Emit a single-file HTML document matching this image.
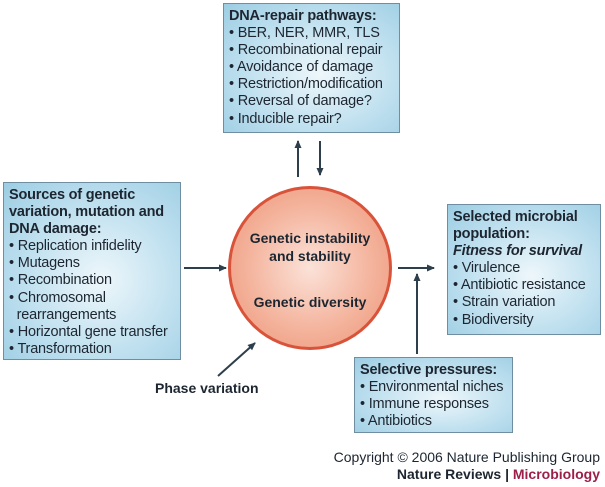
<!DOCTYPE html>
<html><head><meta charset="utf-8"><style>
body{margin:0;width:605px;height:487px;background:#fff;position:relative;overflow:hidden;font-family:"Liberation Sans",sans-serif;color:#1d2630}
.b{position:absolute;box-sizing:border-box;border:1.5px solid #6f8ea2;background:radial-gradient(ellipse at 55% 55%,#eef7fb 0%,#bfe0ef 55%,#9ccde3 100%);font-size:14.5px;line-height:17.1px;padding:4px 5px;letter-spacing:-0.2px;white-space:nowrap}
.b b{font-size:14.5px}
.c{position:absolute;left:228px;top:186px;width:164px;height:164px;border-radius:50%;box-sizing:border-box;border:3px solid #d8533a;background:radial-gradient(circle at 50% 50%,#fbe2d8 0%,#f4b49d 55%,#ec9276 100%);text-align:center;font-weight:bold;font-size:14px;line-height:18px}
.t{position:absolute;font-size:14px}
</style></head><body>
<div class="b" style="left:223px;top:3px;width:177px;height:130px"><b>DNA-repair pathways:</b><br>• BER, NER, MMR, TLS<br>• Recombinational repair<br>• Avoidance of damage<br>• Restriction/modification<br>• Reversal of damage?<br>• Inducible repair?</div>
<div class="b" style="left:3px;top:182px;width:178px;height:178px;white-space:normal"><b>Sources of genetic variation, mutation and DNA damage:</b><br>• Replication infidelity<br>• Mutagens<br>• Recombination<br>• Chromosomal<br>&nbsp;&nbsp;rearrangements<br>• Horizontal gene transfer<br>• Transformation</div>
<div class="b" style="left:447px;top:204px;width:154px;height:131px"><b>Selected microbial<br>population:</b><br><b><i>Fitness for survival</i></b><br>• Virulence<br>• Antibiotic resistance<br>• Strain variation<br>• Biodiversity</div>
<div class="b" style="left:354px;top:357px;width:159px;height:76px"><b>Selective pressures:</b><br>• Environmental niches<br>• Immune responses<br>• Antibiotics</div>
<div class="c"><div style="position:absolute;top:40px;width:100%">Genetic instability<br>and stability</div><div style="position:absolute;top:104px;width:100%">Genetic diversity</div></div>
<svg style="position:absolute;left:0;top:0" width="605" height="487">
<defs><marker id="a" markerWidth="8" markerHeight="8" refX="7" refY="4" orient="auto" markerUnits="userSpaceOnUse"><path d="M0,0.5 L8,4 L0,7.5 Z" fill="#2d3e4c"/></marker></defs>
<g stroke="#2d3e4c" stroke-width="2" fill="none" marker-end="url(#a)">
<line x1="298" y1="177" x2="298" y2="141"/>
<line x1="320" y1="141" x2="320" y2="175"/>
<line x1="184" y1="268" x2="226" y2="268"/>
<line x1="398" y1="268" x2="434" y2="268"/>
<line x1="417" y1="354" x2="417" y2="274"/>
<line x1="218" y1="376" x2="255" y2="343"/>
</g></svg>
<div class="t" style="left:155px;top:380px;font-weight:bold">Phase variation</div>
<div class="t" style="right:5px;top:449px">Copyright © 2006 Nature Publishing Group</div>
<div class="t" style="right:5px;top:466px;font-weight:bold">Nature Reviews | <span style="color:#9c1f4a">Microbiology</span></div>
</body></html>
